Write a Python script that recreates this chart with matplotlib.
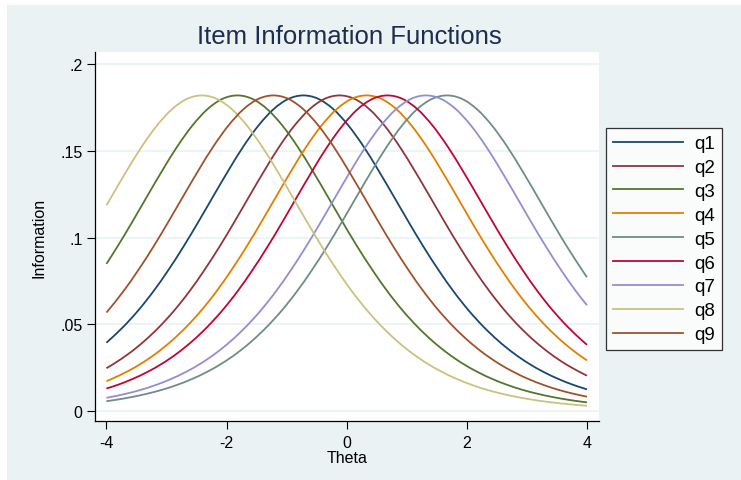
"""
Item Information Functions (Stata s2color look) mit matplotlib nachgebaut.
"""
import matplotlib
matplotlib.use("Agg")
import matplotlib.pyplot as plt
from matplotlib.lines import Line2D
from matplotlib.path import Path
from matplotlib.patches import PathPatch, Rectangle

plt.rcParams["font.family"] = ["Liberation Sans", "DejaVu Sans"]

# Werte (Theta, Information) pro Item
q1_theta = [-4, -3.97, -3.72, -3.47, -3.22, -2.97, -2.72, -2.47, -2.22, -1.97, -1.72, -1.47, -1.22, -0.97,
            -0.72, -0.47, -0.22, 0.03, 0.28, 0.53, 0.78, 1.03, 1.28, 1.53, 1.78, 2.03, 2.28, 2.53, 2.78,
            3.03, 3.28, 3.53, 3.78, 4]
q1_info = [0.0394, 0.0403, 0.0485, 0.0580, 0.0689, 0.0812, 0.0946, 0.1090, 0.1239, 0.1386, 0.1525, 0.1645,
           0.1739, 0.1799, 0.1819, 0.1799, 0.1739, 0.1645, 0.1525, 0.1386, 0.1239, 0.1090, 0.0946, 0.0812,
           0.0689, 0.0580, 0.0485, 0.0403, 0.0333, 0.0274, 0.0225, 0.0184, 0.0150, 0.0125]

q2_theta = [-4, -3.87, -3.62, -3.37, -3.12, -2.87, -2.62, -2.37, -2.12, -1.87, -1.62, -1.37, -1.12, -0.87,
            -0.62, -0.37, -0.12, 0.13, 0.38, 0.63, 0.88, 1.13, 1.38, 1.63, 1.88, 2.13, 2.38, 2.63, 2.88,
            3.13, 3.38, 3.63, 3.88, 4]
q2_info = [0.0247, 0.0274, 0.0333, 0.0403, 0.0485, 0.0580, 0.0689, 0.0812, 0.0946, 0.1090, 0.1239, 0.1386,
           0.1525, 0.1645, 0.1739, 0.1799, 0.1819, 0.1799, 0.1739, 0.1645, 0.1525, 0.1386, 0.1239, 0.1090,
           0.0946, 0.0812, 0.0689, 0.0580, 0.0485, 0.0403, 0.0333, 0.0274, 0.0225, 0.0204]

q3_theta = [-4, -3.82, -3.57, -3.32, -3.07, -2.82, -2.57, -2.32, -2.07, -1.82, -1.57, -1.32, -1.07, -0.82,
            -0.57, -0.32, -0.07, 0.18, 0.43, 0.68, 0.93, 1.18, 1.43, 1.68, 1.93, 2.18, 2.43, 2.68, 2.93,
            3.18, 3.43, 3.68, 3.93, 4]
q3_info = [0.0848, 0.0946, 0.1090, 0.1239, 0.1386, 0.1525, 0.1645, 0.1739, 0.1799, 0.1819, 0.1799, 0.1739,
           0.1645, 0.1525, 0.1386, 0.1239, 0.1090, 0.0946, 0.0812, 0.0689, 0.0580, 0.0485, 0.0403, 0.0333,
           0.0274, 0.0225, 0.0184, 0.0150, 0.0122, 0.00994, 0.00808, 0.00655, 0.00531, 0.00501]

q4_theta = [-4, -3.92, -3.67, -3.42, -3.17, -2.92, -2.67, -2.42, -2.17, -1.92, -1.67, -1.42, -1.17, -0.92,
            -0.67, -0.42, -0.17, 0.08, 0.33, 0.58, 0.83, 1.08, 1.33, 1.58, 1.83, 2.08, 2.33, 2.58, 2.83,
            3.08, 3.33, 3.58, 3.83, 4]
q4_info = [0.0172, 0.0184, 0.0225, 0.0274, 0.0333, 0.0403, 0.0485, 0.0580, 0.0689, 0.0812, 0.0946, 0.1090,
           0.1239, 0.1386, 0.1525, 0.1645, 0.1739, 0.1799, 0.1819, 0.1799, 0.1739, 0.1645, 0.1525, 0.1386,
           0.1239, 0.1090, 0.0946, 0.0812, 0.0689, 0.0580, 0.0485, 0.0403, 0.0333, 0.0292]

q5_theta = [-4, -3.83, -3.58, -3.33, -3.08, -2.83, -2.58, -2.33, -2.08, -1.83, -1.58, -1.33, -1.08, -0.83,
            -0.58, -0.33, -0.08, 0.17, 0.42, 0.67, 0.92, 1.17, 1.42, 1.67, 1.92, 2.17, 2.42, 2.67, 2.92,
            3.17, 3.42, 3.67, 3.92, 4]
q5_info = [0.00568, 0.00655, 0.00808, 0.00994, 0.0122, 0.0150, 0.0184, 0.0225, 0.0274, 0.0333, 0.0403,
           0.0485, 0.0580, 0.0689, 0.0812, 0.0946, 0.1090, 0.1239, 0.1386, 0.1525, 0.1645, 0.1739, 0.1799,
           0.1819, 0.1799, 0.1739, 0.1645, 0.1525, 0.1386, 0.1239, 0.1090, 0.0946, 0.0812, 0.0771]

q6_theta = [-4, -3.82, -3.57, -3.32, -3.07, -2.82, -2.57, -2.32, -2.07, -1.82, -1.57, -1.32, -1.07, -0.82,
            -0.57, -0.32, -0.07, 0.18, 0.43, 0.68, 0.93, 1.18, 1.43, 1.68, 1.93, 2.18, 2.43, 2.68, 2.93,
            3.18, 3.43, 3.68, 3.93, 4]
q6_info = [0.0130, 0.0150, 0.0184, 0.0225, 0.0274, 0.0333, 0.0403, 0.0485, 0.0580, 0.0689, 0.0812, 0.0946,
           0.1090, 0.1239, 0.1386, 0.1525, 0.1645, 0.1739, 0.1799, 0.1819, 0.1799, 0.1739, 0.1645, 0.1525,
           0.1386, 0.1239, 0.1090, 0.0946, 0.0812, 0.0689, 0.0580, 0.0485, 0.0403, 0.0382]

q7_theta = [-4, -3.93, -3.68, -3.43, -3.18, -2.93, -2.68, -2.43, -2.18, -1.93, -1.68, -1.43, -1.18, -0.93,
            -0.68, -0.43, -0.18, 0.07, 0.32, 0.57, 0.82, 1.07, 1.32, 1.57, 1.82, 2.07, 2.32, 2.57, 2.82,
            3.07, 3.32, 3.57, 3.82, 4]
q7_info = [0.00762, 0.00808, 0.00994, 0.0122, 0.0150, 0.0184, 0.0225, 0.0274, 0.0333, 0.0403, 0.0485,
           0.0580, 0.0689, 0.0812, 0.0946, 0.1090, 0.1239, 0.1386, 0.1525, 0.1645, 0.1739, 0.1799, 0.1819,
           0.1799, 0.1739, 0.1645, 0.1525, 0.1386, 0.1239, 0.1090, 0.0946, 0.0812, 0.0689, 0.0610]

q8_theta = [-4, -3.91, -3.66, -3.41, -3.16, -2.91, -2.66, -2.41, -2.16, -1.91, -1.66, -1.41, -1.16, -0.91,
            -0.66, -0.41, -0.16, 0.09, 0.34, 0.59, 0.84, 1.09, 1.34, 1.59, 1.84, 2.09, 2.34, 2.59, 2.84,
            3.09, 3.34, 3.59, 3.84, 4]
q8_info = [0.1185, 0.1239, 0.1386, 0.1525, 0.1645, 0.1739, 0.1799, 0.1819, 0.1799, 0.1739, 0.1645, 0.1525,
           0.1386, 0.1239, 0.1090, 0.0946, 0.0812, 0.0689, 0.0580, 0.0485, 0.0403, 0.0333, 0.0274, 0.0225,
           0.0184, 0.0150, 0.0122, 0.00994, 0.00808, 0.00655, 0.00531, 0.00431, 0.00349, 0.00305]

q9_theta = [-4, -3.97, -3.72, -3.47, -3.22, -2.97, -2.72, -2.47, -2.22, -1.97, -1.72, -1.47, -1.22, -0.97,
            -0.72, -0.47, -0.22, 0.03, 0.28, 0.53, 0.78, 1.03, 1.28, 1.53, 1.78, 2.03, 2.28, 2.53, 2.78,
            3.03, 3.28, 3.53, 3.78, 4]
q9_info = [0.0568, 0.0580, 0.0689, 0.0812, 0.0946, 0.1090, 0.1239, 0.1386, 0.1525, 0.1645, 0.1739, 0.1799,
           0.1819, 0.1799, 0.1739, 0.1645, 0.1525, 0.1386, 0.1239, 0.1090, 0.0946, 0.0812, 0.0689, 0.0580,
           0.0485, 0.0403, 0.0333, 0.0274, 0.0225, 0.0184, 0.0150, 0.0122, 0.00994, 0.00828]

ITEMS = ["q1", "q2", "q3", "q4", "q5", "q6", "q7", "q8", "q9"]
THETAS = [q1_theta, q2_theta, q3_theta, q4_theta, q5_theta, q6_theta, q7_theta, q8_theta, q9_theta]
INFOS = [q1_info, q2_info, q3_info, q4_info, q5_info, q6_info, q7_info, q8_info, q9_info]

X_TICKS = [-4, -2, 0, 2, 4]
Y_TICKS = [0, 0.05, 0.1, 0.15, 0.2]
Y_TICK_LABELS = ["0", ".05", ".1", ".15", ".2"]

# Stata s2color Palette
COLORS = ["#1a476f", "#90353b", "#55752f", "#e37e00", "#6e8e84",
          "#c10534", "#938dd2", "#cac27e", "#a0522d"]
BG = "#eaf2f3"
LW = 1.3


def smooth_path(xs, ys):
    n = len(xs)
    slopes = []
    for i in range(n):
        lo, hi = max(i - 1, 0), min(i + 1, n - 1)
        slopes.append((ys[hi] - ys[lo]) / (xs[hi] - xs[lo]))
    verts = [(xs[0], ys[0])]
    codes = [Path.MOVETO]
    for i in range(n - 1):
        h = xs[i + 1] - xs[i]
        verts += [(xs[i] + h / 3, ys[i] + slopes[i] * h / 3),
                  (xs[i + 1] - h / 3, ys[i + 1] - slopes[i + 1] * h / 3),
                  (xs[i + 1], ys[i + 1])]
        codes += [Path.CURVE4] * 3
    return Path(verts, codes)


W, H = 741, 481
fig = plt.figure(figsize=(W / 100, H / 100), dpi=100, facecolor="white")
# Hintergrund mit kleinem weissen Rand oben/links
fig.patches.append(Rectangle((7 / W, 0), 1 - 7 / W, 1 - 6 / H,
                             transform=fig.transFigure, facecolor=BG,
                             edgecolor="none", zorder=-10))

ax = fig.add_axes([95 / W, 1 - 422.3 / H, 504 / W, 369.6 / H])
ax.set_facecolor("white")

handles = []
for name, th, info, col in zip(ITEMS, THETAS, INFOS, COLORS):
    ax.add_patch(PathPatch(smooth_path(th, info), facecolor="none",
                           edgecolor=col, linewidth=LW, zorder=3,
                           capstyle="butt", joinstyle="round"))
    handles.append(Line2D([], [], color=col, linewidth=LW, label=name))

ax.set_xlim(-4.19, 4.2)
ax.set_ylim(-0.0059, 0.2071)
ax.set_xticks(X_TICKS)
ax.set_xticklabels([str(t) for t in X_TICKS])
ax.set_yticks(Y_TICKS)
ax.set_yticklabels(Y_TICK_LABELS)
ax.tick_params(axis="both", labelsize=11.5, length=6, width=0.8,
               colors="black", pad=3)
ax.tick_params(axis="x", pad=4)
ax.grid(True, axis="y", color=BG, linewidth=1.2, zorder=0)
ax.set_axisbelow(True)

for side in ["top", "right"]:
    ax.spines[side].set_visible(False)
for side in ["left", "bottom"]:
    ax.spines[side].set_linewidth(0.9)
    ax.spines[side].set_color("black")

ax.set_xlabel("Theta", fontsize=11.5, labelpad=0)
ax.set_ylabel("Information", fontsize=11.5, labelpad=10)

fig.text(349 / W, 1 - 37.5 / H, "Item Information Functions", ha="center",
         va="center", fontsize=18.5, color="#1e2c4f")

leg = ax.legend(handles=handles, loc="upper left",
                bbox_to_anchor=(605.7 / W, 1 - 129 / H),
                bbox_transform=fig.transFigure, fontsize=13.5,
                frameon=True, fancybox=False, borderaxespad=0,
                handlelength=3.76, handletextpad=0.58, labelspacing=0.36,
                borderpad=0.38)
leg.get_frame().set_edgecolor("black")
leg.get_frame().set_linewidth(0.9)
leg.get_frame().set_facecolor("white")

fig.savefig("out.png", dpi=100, facecolor=fig.get_facecolor())
